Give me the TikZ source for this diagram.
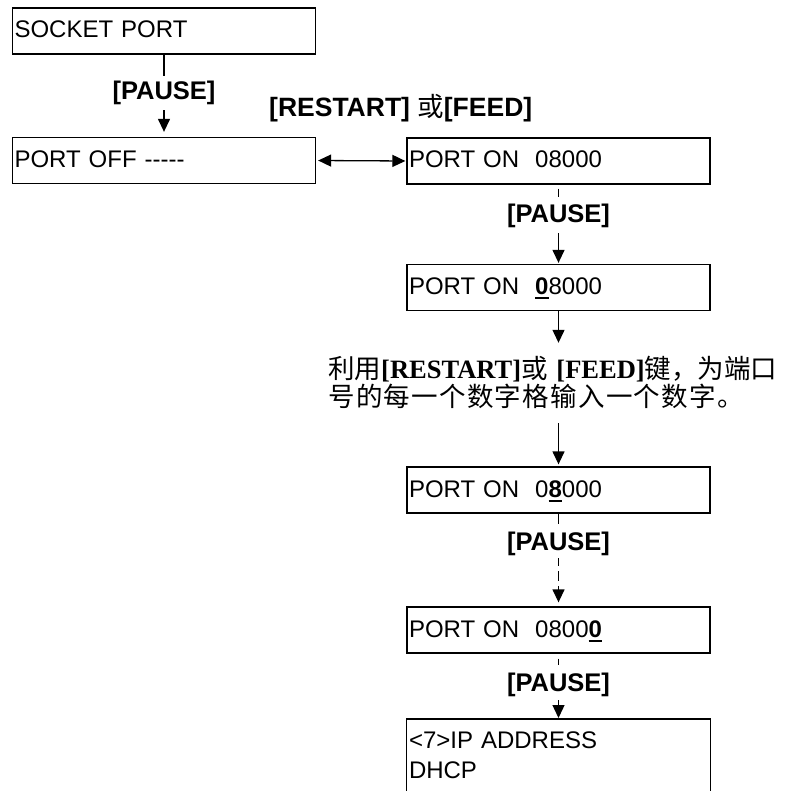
\documentclass[tikz,border=0pt]{standalone}
\usepackage{fontspec}
\setmainfont{Liberation Sans}
\newfontfamily\cjk{Noto Sans CJK SC}
\newfontfamily\tnr{Liberation Serif}
\usetikzlibrary{arrows.meta}
\tikzset{
  boxline/.style={line width=1.3pt},
  dispbox/.style={boxline, draw, rectangle, minimum width=303pt, minimum height=46pt,
    text width=299pt, align=left, inner xsep=2pt, inner ysep=0pt,
    text height=18pt, text depth=4pt, font=\fontsize{24}{30}\selectfont},
  keylabel/.style={inner sep=0pt, anchor=base, text height=18pt, text depth=5pt,
    font=\fontsize{25.5}{30}\selectfont\bfseries},
  conn/.style={line width=1.3pt},
  arr/.style={conn, -{Triangle[length=13pt,width=12pt]}},
  dbl/.style={conn, {Triangle[length=13pt,width=12pt]}-{Triangle[length=13pt,width=12pt]}},
  dsh/.style={conn, dash pattern=on 10pt off 5pt},
}
\newcommand{\ul}[1]{\leavevmode\vtop{\hbox{\textbf{#1}}\kern2.5pt\hrule height 2pt}}
\newcommand{\cjktext}{\fontsize{26.5}{28}\selectfont\cjk}
\newcommand{\cc}[1]{\makebox[27.8pt][l]{#1}}
\begin{document}
\begin{tikzpicture}[x=1pt,y=-1pt]
\useasboundingbox (0,0) rectangle (792,791);

% boxes
\node[dispbox] (S) at (164,31) {SOCKET PORT};
\node[dispbox] (POFF) at (164,160.5) {PORT OFF -\kern0pt-\kern0pt-\kern0pt-\kern0pt-};
\node[dispbox] (PA) at (558.5,161) {PORT ON\ \ 08000};
\node[dispbox] (PB) at (558.5,287.5) {PORT ON\ \ \ul{0}8000};
\node[dispbox] (PC) at (558.5,490) {PORT ON\ \ 0\ul{8}000};
\node[dispbox] (PD) at (558.5,630) {PORT ON\ \ 0800\ul{0}};
\node[boxline, rectangle, minimum width=303pt, minimum height=72pt, text width=299pt,
  align=left, inner xsep=2pt, inner ysep=0pt, anchor=north,
  font=\fontsize{24}{30}\selectfont] (E) at (558.5,719) {<7>IP ADDRESS\\DHCP};
\draw[boxline] (E.south west) -- (E.north west) -- (E.north east) -- (E.south east);

% labels
\node[keylabel] (P1) at (164,100) {[PAUSE]};
\node[keylabel, anchor=base west, font=\fontsize{26.5}{30}\selectfont\bfseries] (RF) at (269,117)
  {[RESTART] {\cjk\mdseries 或}[FEED]};
\node[keylabel] (P2) at (558.5,223) {[PAUSE]};
\node[keylabel] (P3) at (558.5,550) {[PAUSE]};
\node[keylabel] (P4) at (558.5,691) {[PAUSE]};

% Chinese instruction text
\node[anchor=base west, inner sep=0pt, text width=470pt, align=left,
  font=\cjktext] (T) at (328,378)
  {\lineskiplimit=-100pt\relax
   \rule{0pt}{24pt}利用{\tnr\bfseries [RESTART]}或 {\tnr\bfseries [FEED]}键，为端口\\
   \cc{号}\cc{的}\cc{每}\cc{一}\cc{个}\cc{数}\cc{字}\cc{格}\cc{输}\cc{入}\cc{一}\cc{个}\cc{数}\cc{字}\cc{。}\rule[-6pt]{0pt}{6pt}};

% connectors
\draw[conn, shorten >=6pt] (S.south) -- (P1.north);
\draw[arr, shorten <=5pt, shorten >=5pt] (P1.south) -- (POFF.north);
\draw[dbl, shorten <=2pt, shorten >=1pt] (POFF.east) -- (PA.west);
\draw[dsh, shorten <=4pt, shorten >=8pt] (PA.south) -- (P2.north);
\draw[arr, shorten <=5pt, shorten >=1pt] (P2.south) -- (PB.north);
\draw[arr, shorten >=11pt] (PB.south) -- (PB.south |- T.north);
\draw[arr, shorten <=11pt, shorten >=2pt] (PC.north |- T.south) -- (PC.north);
\draw[dsh, shorten >=4pt] (PC.south) -- (P3.north);
\draw[dsh, -{Triangle[length=13pt,width=12pt]}, dash phase=2pt, shorten <=3pt, shorten >=4pt] (P3.south) -- (PD.north);
\draw[dsh, shorten <=5pt, shorten >=8pt] (PD.south) -- (P4.north);
\draw[arr, shorten <=4pt, shorten >=1pt] (P4.south) -- (E.north);
\end{tikzpicture}
\end{document}
